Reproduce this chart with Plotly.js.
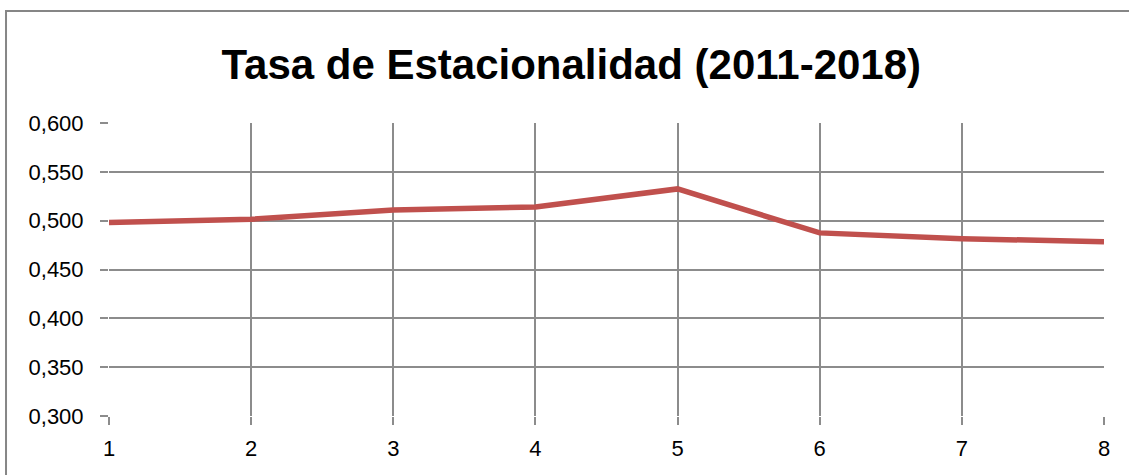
<!DOCTYPE html>
<html>
<head>
<meta charset="utf-8">
<script src="https://cdn.plot.ly/plotly-3.0.1.min.js"></script>
<style>html,body{margin:0;padding:0;background:#fff;}#chart{width:1129px;height:475px;}</style>
</head>
<body>
<div id="chart"></div>
<script>
const periods = [1, 2, 3, 4, 5, 6, 7, 8];
const tasa = [0.498, 0.5015, 0.511, 0.514, 0.5325, 0.4875, 0.4815, 0.4785];
const yTicks = [0.300, 0.350, 0.400, 0.450, 0.500, 0.550, 0.600];
const titleText = 'Tasa de Estacionalidad (2011-2018)';

const trace = {
  x: periods, y: tasa, type: 'scatter', mode: 'lines',
  line: {color: '#C0504D', width: 5.5},
  hoverinfo: 'x+y'
};

const layout = {
  width: 1129, height: 475,
  margin: {l: 109, r: 25, t: 123, b: 59},
  paper_bgcolor: '#ffffff', plot_bgcolor: '#ffffff',
  separators: ',.',
  showlegend: false,
  title: {
    text: '<b>' + titleText + '</b>',
    font: {family: 'Liberation Sans, Arial, sans-serif', size: 42, color: '#000'},
    x: 0.506, xanchor: 'center', y: 0.865, yanchor: 'middle'
  },
  xaxis: {
    range: [1, 8], tickvals: periods, ticktext: periods.map(String),
    showgrid: true, gridcolor: '#8c8c8c', gridwidth: 2,
    zeroline: false, showline: false,
    ticks: 'outside', ticklen: 8, tickwidth: 2, tickcolor: '#8c8c8c',
    tickfont: {family: 'Liberation Sans, Arial, sans-serif', size: 22, color: '#000'},
    ticklabelstandoff: 5,
    fixedrange: true
  },
  yaxis: {
    range: [0.300, 0.600], tickvals: yTicks, tickformat: '.3f',
    showgrid: true, gridcolor: '#8c8c8c', gridwidth: 2,
    zeroline: false, showline: false,
    ticks: 'outside', ticklen: 8, tickwidth: 2, tickcolor: '#8c8c8c',
    tickfont: {family: 'Liberation Sans, Arial, sans-serif', size: 22, color: '#000'},
    ticklabelstandoff: 12,
    fixedrange: true
  },
  shapes: [{
    type: 'rect', xref: 'paper', yref: 'paper',
    x0: -0.1035, x1: 1.2, y0: -0.4, y1: 1.382,
    line: {color: '#868686', width: 2}, fillcolor: 'rgba(0,0,0,0)', layer: 'below'
  }]
};

Plotly.newPlot('chart', [trace], layout, {displayModeBar: false, staticPlot: true});
</script>
</body>
</html>
